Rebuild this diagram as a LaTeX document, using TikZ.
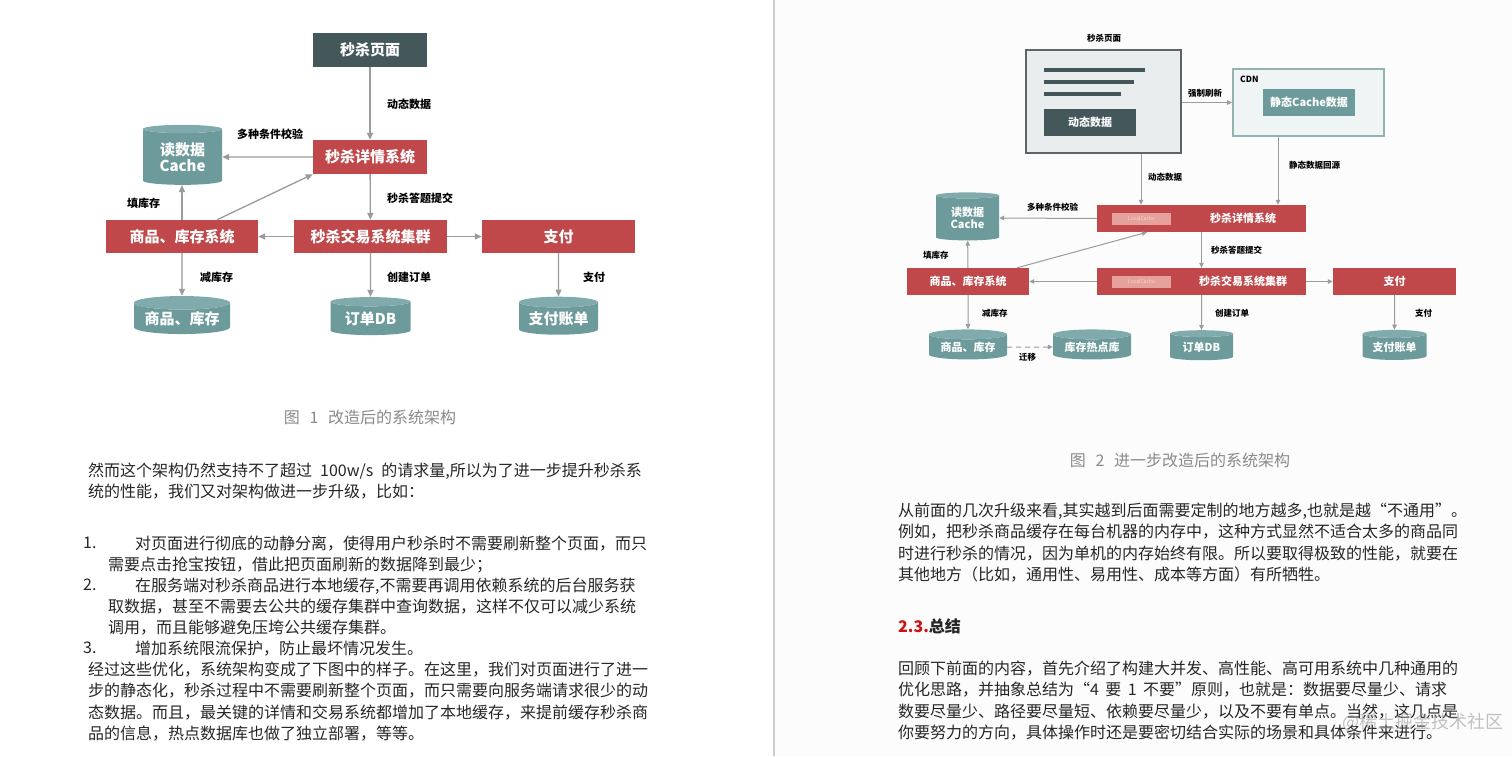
\documentclass[tikz,border=0pt]{standalone}
\usepackage{fontspec}
\setmainfont{Noto Sans CJK SC}
\usetikzlibrary{arrows.meta,shapes.geometric,calc}
\definecolor{boxred}{HTML}{C0474A}
\definecolor{dbteal}{HTML}{6D9A9B}
\definecolor{dbtop}{HTML}{80AAAB}
\definecolor{slate}{HTML}{44585C}
\definecolor{arrowgray}{HTML}{9B9B9B}
\definecolor{capgray}{HTML}{8A8A8A}
\definecolor{pagefill}{HTML}{E9EDED}
\definecolor{pageedge}{HTML}{5E6566}
\definecolor{cdnfill}{HTML}{EFF4F4}
\definecolor{cdnedge}{HTML}{93B3B3}
\definecolor{pill}{HTML}{E6A19C}
\definecolor{pilltext}{HTML}{F6D9D6}
\definecolor{bodytext}{HTML}{262626}
\definecolor{headred}{HTML}{CC1111}
\tikzset{
  redbox/.style={fill=boxred, draw=none, inner sep=0, text=white, font=\bfseries\fontsize{15}{15}\selectfont},
  redboxs/.style={fill=boxred, draw=none, inner sep=0, text=white, font=\bfseries\fontsize{11}{11}\selectfont},
  slatebox/.style={fill=slate, draw=none, inner sep=0, text=white, font=\bfseries\fontsize{15}{15}\selectfont},
  db/.style={cylinder, shape border rotate=90, aspect=0.18, draw=none, cylinder uses custom fill,
    cylinder body fill=dbteal, cylinder end fill=dbtop, text=white, inner sep=0,
    font=\bfseries\fontsize{15}{16}\selectfont, align=center},
  dbs/.style={db, font=\bfseries\fontsize{11}{12}\selectfont},
  conn/.style={draw=arrowgray, line width=1.3pt, -{Triangle[length=7pt,width=6pt]}},
  conns/.style={draw=arrowgray, line width=1pt, -{Triangle[length=5pt,width=4.5pt]}},
  lbl/.style={font=\bfseries\fontsize{11}{11}\selectfont, anchor=west, inner sep=0, text=black},
  lbls/.style={font=\bfseries\fontsize{8.5}{9}\selectfont, anchor=west, inner sep=0, text=black},
  para/.style={font=\fontsize{16}{21.2}\selectfont, anchor=north west, inner sep=0, align=left, text=bodytext},
  figcap/.style={font=\fontsize{16}{16}\selectfont, inner sep=0, text=capgray},
  pillbox/.style={fill=pill, inner sep=0, minimum width=59, minimum height=12, text=pilltext, font=\fontsize{5}{5}\selectfont}
}
\begin{document}
\begin{tikzpicture}[x=1pt,y=-1pt]
\useasboundingbox (0,0) rectangle (1512,756);
\fill[white] (0,0) rectangle (1512,756);
\fill[black!1] (775,0) rectangle (1512,756);
\draw[line width=1.5pt, black!20] (774,0) -- (774,756);

% ---------------- left diagram ----------------
\node[slatebox, minimum width=114, minimum height=34] (lpage) at (370,50) {秒杀页面};
\node[redbox, minimum width=114, minimum height=34] (ldetail) at (370,157) {秒杀详情系统};
\node[db, minimum width=79, minimum height=60] (lcache) at (182.5,157) {读数据\\Cache};
\node[redbox, minimum width=152, minimum height=33] (lstock) at (182,236.5) {商品、库存系统};
\node[redbox, minimum width=153, minimum height=33] (ltrade) at (370.5,236.5) {秒杀交易系统集群};
\node[redbox, minimum width=153, minimum height=33] (lpay) at (558.5,236.5) {支付};
\node[db, minimum width=96, minimum height=38] (lstockdb) at (182,318.5) {商品、库存};
\node[db, minimum width=80, minimum height=38] (lorder) at (370.5,318.5) {订单DB};
\node[db, minimum width=79, minimum height=38] (lpaydb) at (558.5,318.5) {支付账单};

\draw[conn] (lpage) -- (ldetail);
\draw[conn] (ldetail) -- (lcache);
\draw[conn] (ldetail) -- (ltrade);
\draw[conn] (ltrade) -- (lstock);
\draw[conn] (ltrade) -- (lpay);
\draw[conn] (lstock.north) -- (lstock.north |- lcache.south);
\draw[conn] ([xshift=35]lstock.north) -- (ldetail.south west);
\draw[conn] (lstock) -- (lstockdb);
\draw[conn] (ltrade) -- (lorder);
\draw[conn] (lpay) -- (lpaydb);

\node[lbl] (l1) at (387,104) {动态数据};
\node[lbl] (l2) at (237,134) {多种条件校验};
\node[lbl] (l3) at (387,198) {秒杀答题提交};
\node[lbl] (l4) at (127,203) {填库存};
\node[lbl] (l5) at (200,277) {减库存};
\node[lbl] (l6) at (387,277) {创建订单};
\node[lbl] (l7) at (583,277) {支付};

\node[figcap] (cap1) at (370,417) {图\hspace{0.6em}1\hspace{0.6em}改造后的系统架构};

% ---------------- left text ----------------
\node[para] (pa) at (88,463) {然而这个架构仍然支持不了超过\hspace{0.5em}100w/s\hspace{0.5em}的请求量,所以为了进一步提升秒杀系\\统的性能，我们又对架构做进一步升级，比如：};
\node[para] (n1) at (83,537) {1.};
\node[para] (i1a) at (135,536) {对页面进行彻底的动静分离，使得用户秒杀时不需要刷新整个页面，而只};
\node[para] (i1b) at (108,557) {需要点击抢宝按钮，借此把页面刷新的数据降到最少；};
\node[para] (n2) at (83,579) {2.};
\node[para] (i2a) at (135,578) {在服务端对秒杀商品进行本地缓存,不需要再调用依赖系统的后台服务获};
\node[para] (i2b) at (108,599) {取数据，甚至不需要去公共的缓存集群中查询数据，这样不仅可以减少系统\\调用，而且能够避免压垮公共缓存集群。};
\node[para] (n3) at (83,642) {3.};
\node[para] (i3a) at (135,641) {增加系统限流保护，防止最坏情况发生。};
\node[para] (pb) at (88,662) {经过这些优化，系统架构变成了下图中的样子。在这里，我们对页面进行了进一\\步的静态化，秒杀过程中不需要刷新整个页面，而只需要向服务端请求很少的动\\态数据。而且，最关键的详情和交易系统都增加了本地缓存，来提前缓存秒杀商\\品的信息，热点数据库也做了独立部署，等等。};

% ---------------- right diagram ----------------
\node[lbls] (rpagelbl) at (1087,38) {秒杀页面};
\node[draw=pageedge, line width=1.8pt, fill=pagefill, minimum width=155, minimum height=103, inner sep=0] (rpage) at (1103.5,101.5) {};
\draw[line width=4pt, slate] (1044,70) -- (1145,70);
\draw[line width=4pt, slate] (1044,82) -- (1134,82);
\draw[line width=4pt, slate] (1044,93.5) -- (1121,93.5);
\node[fill=slate, minimum width=92, minimum height=27, inner sep=0, text=white, font=\bfseries\fontsize{11}{11}\selectfont] (rdyn) at (1090,122.5) {动态数据};
\node[draw=cdnedge, line width=1.8pt, fill=cdnfill, minimum width=151, minimum height=67, inner sep=0] (rcdn) at (1308.5,102.5) {};
\node[lbls] (rcdnlbl) at (1240,79) {CDN};
\node[fill=dbteal, minimum width=92, minimum height=27, inner sep=0, text=white, font=\bfseries\fontsize{11}{11}\selectfont] (rstatic) at (1309,102.5) {静态Cache数据};

\node[redboxs, minimum width=209, minimum height=27] (rdetail) at (1201.5,218.5) {};
\node[pillbox] (rlc1) at (1141.5,218.5) {LocalCache};
\node[redboxs, fill=none] (rdetailtxt) at (1243,218.5) {秒杀详情系统};
\node[dbs, minimum width=63, minimum height=48] (rcache) at (967.5,218) {读数据\\Cache};
\node[redboxs, minimum width=122, minimum height=27] (rstock) at (968,281.5) {商品、库存系统};
\node[redboxs, minimum width=209, minimum height=27] (rtrade) at (1201.5,281.5) {};
\node[pillbox] (rlc2) at (1141.5,282) {LocalCache};
\node[redboxs, fill=none] (rtradetxt) at (1243,281.5) {秒杀交易系统集群};
\node[redboxs, minimum width=123, minimum height=27] (rpay) at (1394.5,281.5) {支付};
\node[dbs, minimum width=78, minimum height=30] (rstockdb) at (968,347) {商品、库存};
\node[dbs, minimum width=78, minimum height=30] (rhot) at (1092,347) {库存热点库};
\node[dbs, minimum width=63, minimum height=30] (rorder) at (1201.5,347) {订单DB};
\node[dbs, minimum width=64, minimum height=30] (rpaydb) at (1394.5,347) {支付账单};

\draw[conns] (rpage.east |- rcdn) -- (rcdn.west);
\draw[conns] ([xshift=37.5]rpage.south) -- ([xshift=37.5]rpage.south |- rdetail.north);
\draw[conns] ([xshift=-30.5]rcdn.south) -- ([xshift=-30.5]rcdn.south |- rdetail.north);
\draw[conns] (rdetail.west) -- (rcache.east);
\draw[conns] (rdetail) -- (rtrade);
\draw[conns] (rtrade) -- (rstock);
\draw[conns] (rtrade) -- (rpay);
\draw[conns] (rstock) -- (rcache);
\draw[conns] ([xshift=49]rstock.north) -- ([xshift=-54.5]rdetail.south);
\draw[conns] (rstock) -- (rstockdb);
\draw[conns, dash pattern=on 5pt off 4pt] (rstockdb) -- (rhot);
\draw[conns] (rtrade) -- (rorder);
\draw[conns] (rpay) -- (rpaydb);

\node[lbls] (r1) at (1188,93) {强制刷新};
\node[lbls] (r2) at (1148,177) {动态数据};
\node[lbls] (r3) at (1289,165) {静态数据回源};
\node[lbls] (r4) at (1027,207) {多种条件校验};
\node[lbls] (r5) at (1211,250) {秒杀答题提交};
\node[lbls] (r6) at (923,255) {填库存};
\node[lbls] (r7) at (982,313) {减库存};
\node[lbls] (r8) at (1215,313) {创建订单};
\node[lbls] (r9) at (1415,313) {支付};
\node[lbls] (r10) at (1019,357) {迁移};

\node[figcap] (cap2) at (1180,460) {图\hspace{0.6em}2\hspace{0.6em}进一步改造后的系统架构};

% ---------------- right text ----------------
\node[para] (pc) at (898,503) {从前面的几次升级来看,其实越到后面需要定制的地方越多,也就是越“不通用”。\\例如，把秒杀商品缓存在每台机器的内存中，这种方式显然不适合太多的商品同\\时进行秒杀的情况，因为单机的内存始终有限。所以要取得极致的性能，就要在\\其他地方（比如，通用性、易用性、成本等方面）有所牺牲。};
\node[para, font=\bfseries\fontsize{16}{21}\selectfont] (head) at (898,619) {\textcolor{headred}{2.3.}总结};
\node[para] (pd) at (898,661) {回顾下前面的内容，首先介绍了构建大并发、高性能、高可用系统中几种通用的\\优化思路，并抽象总结为“4\hspace{0.4em}要\hspace{0.4em}1\hspace{0.4em}不要”原则，也就是：数据要尽量少、请求\\数要尽量少、路径要尽量短、依赖要尽量少，以及不要有单点。当然，这几点是\\你要努力的方向，具体操作时还是要密切结合实际的场景和具体条件来进行。};
\node[font=\fontsize{18}{18}\selectfont, text=black!40, opacity=0.6, anchor=west, inner sep=0] (wm) at (1342,722) {@稀土掘金技术社区};
\end{tikzpicture}
\end{document}
